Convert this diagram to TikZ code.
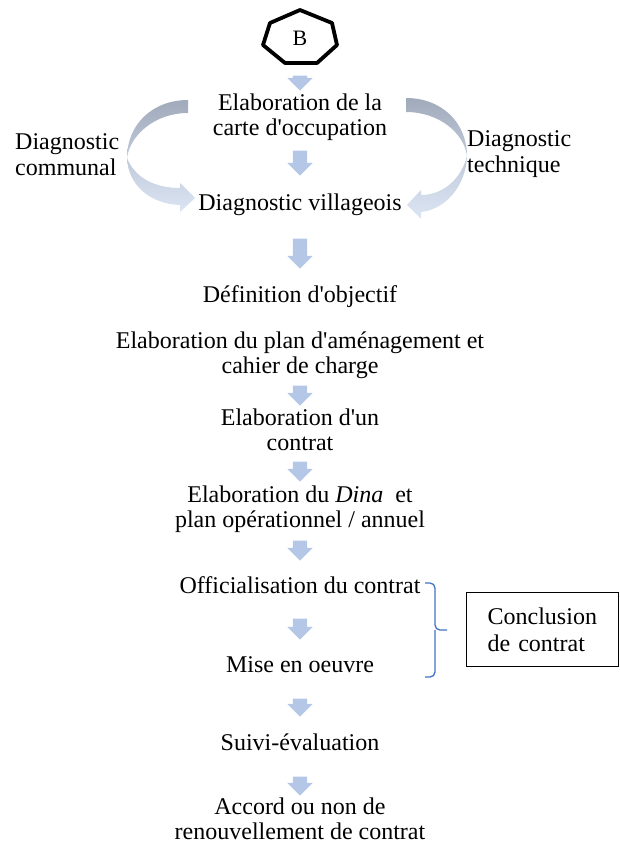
\documentclass[tikz,border=0pt]{standalone}
\usepackage{fontspec}
\setmainfont{Liberation Serif}[Ligatures=TeXOff]
\usepackage{tikz}
\usetikzlibrary{shapes,
				arrows,
				calc}

\definecolor{flowblue}{RGB}{180,199,231}
\definecolor{benddark}{RGB}{160,170,186}
\definecolor{bendmid}{RGB}{192,202,218}
\definecolor{bendlight}{RGB}{220,229,243}
\definecolor{bracecol}{RGB}{68,114,196}

\tikzset{
	stage/.style={inner sep=0pt, align=center, anchor=base, font=\fontsize{24}{25}\selectfont},
	sidelabel/.style={inner sep=0pt, align=left, anchor=base west, font=\fontsize{24}{26}\selectfont},
	flowarrow/.style={single arrow, draw=none, fill=flowblue, rotate=-90, inner sep=0pt, inner ysep=7pt, single arrow head extend=5.5pt}
}

\begin{document}
\begin{tikzpicture}[x=1pt,y=1pt]
\useasboundingbox (0,0) rectangle (619,-843);

% start marker
\draw[line width=3.8pt, line join=round] (300,-10) -- (332,-23) -- (337,-45) -- (317,-63) -- (285,-63) -- (263,-45) -- (270,-23) -- cycle;
\node[stage, anchor=center, font=\fontsize{22}{24}\selectfont] (B) at (300,-38) {B};

% steps (multi-line ones sit on their last line)
\node[stage] (carte) at (300,-135) {Elaboration de la\\carte d'occupation};
\node[stage] (villag) at (300,-210) {Diagnostic villageois};
\node[stage] (objectif) at (300,-302) {Définition d'objectif};
\node[stage] (plan) at (300,-373) {Elaboration du plan d'aménagement et\\cahier de charge};
\node[stage] (contrat) at (300,-450) {Elaboration d'un\\contrat};
\node[stage] (dina) at (300,-527) {Elaboration du \emph{Dina}\ \ et\\plan opérationnel / annuel};
\node[stage] (offic) at (300,-593) {Officialisation du contrat};
\node[stage] (mise) at (300,-672) {Mise en oeuvre};
\node[stage] (suivi) at (300,-750) {Suivi-évaluation};
\node[stage] (accord) at (300,-839) {Accord ou non de\\renouvellement de contrat};

\node[sidelabel] (communal) at (15,-175) {Diagnostic\\communal};
\node[sidelabel] (technique) at (467,-172) {Diagnostic\\technique};

% block arrows
\foreach \n/\ytop/\len in {1/72/15, 2/147/25, 3/235/30, 4/382/20, 5/458/20, 6/537/20, 7/615/21, 8/695/18, 9/773/19} {
	\node[flowarrow, minimum height=\len pt] (a\n) at (300,{-\ytop-\len/2}) {};
}

% curved arrows
\shade[top color=benddark, bottom color=bendmid] (188,-100) .. controls (152,-100) and (127,-125) .. (127,-158) .. controls (130,-135) and (155,-113) .. (188,-113) -- cycle;
\shade[top color=bendmid, bottom color=bendlight] (127,-158) .. controls (128,-185) and (150,-204) .. (180,-205) -- (180,-212) -- (195,-198) -- (180,-183) -- (180,-188) .. controls (155,-188) and (135,-178) .. (127,-158) -- cycle;

\shade[top color=benddark, bottom color=bendmid] (406,-98) .. controls (442,-98) and (467,-123) .. (467,-156) .. controls (464,-133) and (439,-112) .. (406,-112) -- cycle;
\shade[top color=bendmid, bottom color=bendlight] (467,-156) .. controls (466,-187) and (444,-210) .. (421,-212) -- (421,-219) -- (407,-205) -- (421,-190) -- (421,-195) .. controls (442,-195) and (461,-180) .. (467,-156) -- cycle;

% conclusion
\draw[bracecol, line width=1.3pt, rounded corners=5pt] (425,-583) -- (435,-583) -- (435,-630) -- (447,-630);
\draw[bracecol, line width=1.3pt, rounded corners=5pt] (435,-630) -- (435,-677) -- (425,-677);
\node[draw, line width=1.3pt, anchor=north west, minimum width=152pt, minimum height=74pt, text width=110pt, inner xsep=21pt, align=left, font=\fontsize{24}{27}\selectfont] (concl) at (466,-592) {Conclusion\\de contrat};

\end{tikzpicture}
\end{document}
